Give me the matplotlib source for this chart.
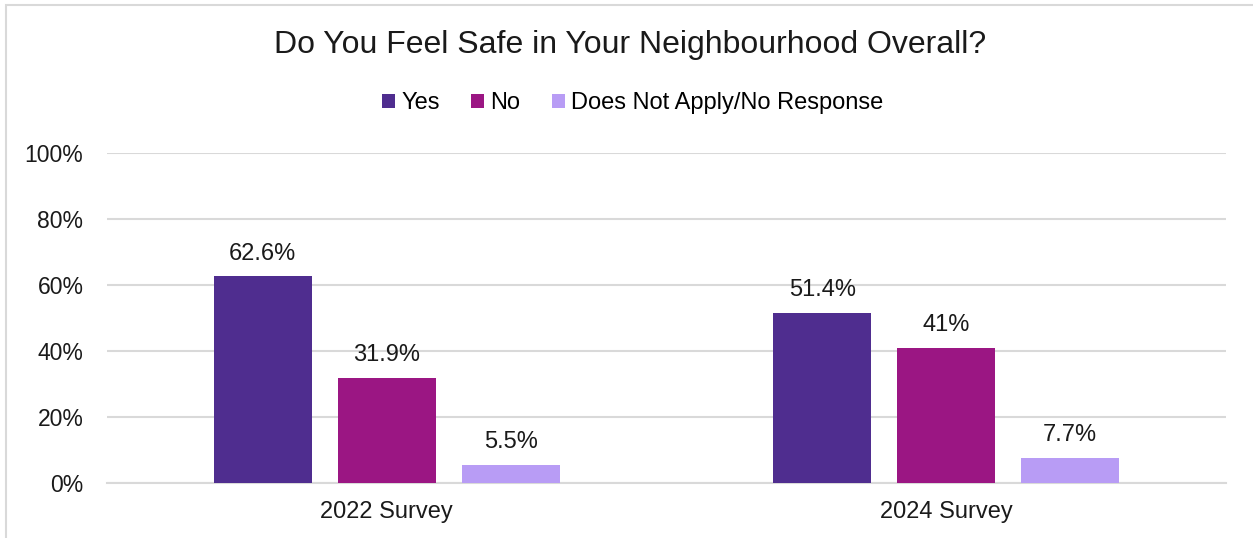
import numpy as np
import matplotlib.pyplot as plt
from matplotlib.patches import Rectangle

plt.rcParams['font.family'] = ['Liberation Sans', 'DejaVu Sans']

categories = ['2022 Survey', '2024 Survey']
series = ['Yes', 'No', 'Does Not Apply/No Response']
yes = [62.6, 51.4]
no = [31.9, 41.0]
dna = [5.5, 7.7]
labels = [['62.6%', '51.4%'], ['31.9%', '41%'], ['5.5%', '7.7%']]
colors = ['#4F2D8F', '#9B1683', '#B89CF5']

fig = plt.figure(figsize=(12.53, 5.38), dpi=100)
ax = fig.add_axes([107 / 1253, 1 - 483 / 538, 1119 / 1253, 330 / 538])

# light frame, only left and top edges visible
fig.patches.append(Rectangle((6 / 1253, -0.1), 1.2, 1 - 5 / 538 + 0.1,
                             transform=fig.transFigure, fill=False,
                             edgecolor='#D9D9D9', linewidth=1.5))

x = np.arange(len(categories))
width = 0.175
offsets = [-0.2215, 0, 0.2215]
for vals, lab, off, col, name in zip([yes, no, dna], labels, offsets, colors, series):
    bars = ax.bar(x + off, vals, width, color=col, label=name, zorder=3)
    for b, t in zip(bars, lab):
        ax.text(b.get_x() + b.get_width() / 2, b.get_height() + 3.6, t,
                ha='center', va='bottom', fontsize=17, color='#1a1a1a')

ax.set_xlim(-0.5, 1.5)
ax.set_ylim(0, 100)
ax.set_yticks(range(0, 101, 20))
ax.set_yticklabels([f'{v}%' for v in range(0, 101, 20)])
ax.set_xticks(x)
ax.set_xticklabels(categories)
ax.tick_params(axis='both', length=0, labelsize=16.5, colors='#1a1a1a')
ax.tick_params(axis='x', labelsize=17)
ax.tick_params(axis='y', pad=17)
ax.tick_params(axis='x', pad=13)
ax.grid(axis='y', color='#D9D9D9', linewidth=1.5, zorder=0)
for s in ['top', 'right', 'left']:
    ax.spines[s].set_visible(False)
ax.spines['bottom'].set_color('#D9D9D9')
ax.spines['bottom'].set_linewidth(1.5)

fig.text(0.503, 1 - 45 / 538, 'Do You Feel Safe in Your Neighbourhood Overall?',
         ha='center', va='center', fontsize=23, color='#1a1a1a')
fig.legend(loc='center', bbox_to_anchor=(0.505, 1 - 103 / 538), ncol=3,
           frameon=False, fontsize=17, handlelength=0.55, handleheight=0.55,
           handletextpad=0.25, columnspacing=1.35)

fig.savefig('out.png', dpi=100)
